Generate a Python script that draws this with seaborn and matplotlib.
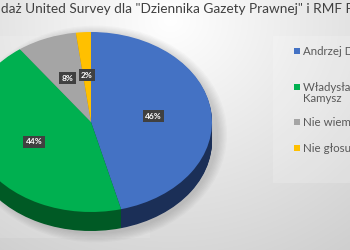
import numpy as np
import matplotlib
matplotlib.use("Agg")
import matplotlib.pyplot as plt
import seaborn as sns
from matplotlib.patches import Rectangle, Ellipse

categories = ["Andrzej Duda", "Władysław Kosiniak-\nKamysz", "Nie wiem", "Nie głosuję"]
values = [46, 44, 8, 2]
title = 'Sondaż United Survey dla "Dziennika Gazety Prawnej" i RMF FM'

top_colors = ["#4472C4", "#00B050", "#A5A5A5", "#FFC000"]
side_colors = ["#1B2F57", "#005A25", "#6E6E6E", "#B08600"]

sns.set_theme(style="white")
FAM = ['Lato', 'DejaVu Sans']
plt.rcParams['font.family'] = FAM

W, H = 350, 250
fig = plt.figure(figsize=(3.5, 2.5), dpi=100)

# background gradient
bg = fig.add_axes([0, 0, 1, 1])
yy, xx = np.mgrid[0:H, 0:W]
d = np.sqrt(((xx - 170) / 1.0) ** 2 + ((yy - 20) / 0.9) ** 2)
t = np.clip(d / 330, 0, 1)
c0 = np.array([1.0, 1.0, 1.0]); c1 = np.array([0.80, 0.80, 0.80])
img = c0[None, None, :] * (1 - t[..., None]) + c1[None, None, :] * t[..., None]
bg.imshow(img, extent=[0, W, H, 0], aspect='auto', zorder=0)
bg.set_xlim(0, W); bg.set_ylim(H, 0); bg.axis('off')
# lighter plot / legend areas
bg.add_patch(Rectangle((273, 36), 80, 147, facecolor='white', alpha=0.18, lw=0, zorder=1))
bg.add_patch(Rectangle((0, 36), 150, 202, facecolor='white', alpha=0.12, lw=0, zorder=1))
# soft shadow
for i in range(8):
    bg.add_patch(Ellipse((96, 134), 2 * (122 + i * 1.3), 2 * (100 + i * 1.2), facecolor='black',
                         alpha=0.018, lw=0, zorder=2))

# title (cropped at figure edges like the reference)
r = fig.canvas.get_renderer()
probe = fig.text(0, 0, title[3:-1], fontsize=10, family=FAM)
wvis = probe.get_window_extent(renderer=r).width
probe.remove()
fs = 10 * 349 / wvis
tmp = fig.text(0, 0, "Son", fontsize=fs, family=FAM)
wpre = tmp.get_window_extent(renderer=r).width
tmp.remove()
fig.text((1 - wpre) / W, 1 - 9 / H, title, fontsize=fs, color='#404040', ha='left', va='center',
         family=FAM)

# pie geometry in pixels
cx, cy, rx, ry, depth = 91, 122, 121, 90, 19
ylow = -1 - depth / ry
ax = fig.add_axes([(cx - rx) / W, (H - (cy + ry + depth)) / H, 2 * rx / W, (2 * ry + depth) / H])
ax.set_facecolor('none')
nlayers = 24
for k in range(nlayers, 0, -1):
    off = -depth / ry * k / nlayers
    ax.pie(values, colors=side_colors, startangle=90, counterclock=False, center=(0, off),
           radius=1, wedgeprops=dict(linewidth=0), frame=True)
wedges, texts, autotexts = ax.pie(values, colors=top_colors, startangle=90, counterclock=False,
                                  center=(0, 0), radius=1, autopct='%.0f%%', pctdistance=0.52,
                                  wedgeprops=dict(linewidth=0), frame=True)
for at in autotexts:
    at.set_color('white'); at.set_fontsize(6); at.set_fontweight('bold')
    at.set_bbox(dict(boxstyle='square,pad=0.3', facecolor='#404040', edgecolor='none'))
ax.set_aspect('auto')
ax.set_xlim(-1, 1); ax.set_ylim(ylow, 1)
ax.axis('off')

# legend
leg_y = [51, 87, 122, 148]
for lab, col, y in zip(categories, top_colors, leg_y):
    bg.add_patch(Rectangle((294, y - 3), 6, 6, facecolor=col, lw=0, zorder=5))
    bg.text(303, y - 5, lab, fontsize=8.3, color='#595959', va='top', ha='left', zorder=5,
            linespacing=1.05)

fig.savefig("out.png", dpi=100)
